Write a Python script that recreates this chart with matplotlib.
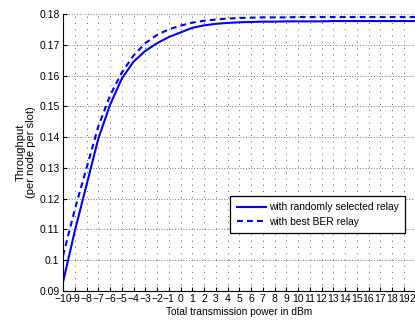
import numpy as np
import matplotlib
matplotlib.use("Agg")
import matplotlib.pyplot as plt
from matplotlib.ticker import MultipleLocator

power_dbm = list(range(-10, 21))

thr_random = [0.0930, 0.1095, 0.1245, 0.1395, 0.1505, 0.1590, 0.1645, 0.1680,
              0.1705, 0.1725, 0.1740, 0.1755, 0.1763, 0.1768, 0.1771, 0.1773,
              0.1774, 0.1775, 0.1775, 0.1776, 0.1776, 0.1776, 0.1776, 0.1777,
              0.1777, 0.1777, 0.1777, 0.1777, 0.1777, 0.1777, 0.1777]

thr_best_ber = [0.1015, 0.1165, 0.1300, 0.1435, 0.1535, 0.1610, 0.1665, 0.1705,
                0.1732, 0.1750, 0.1762, 0.1772, 0.1778, 0.1782, 0.1785, 0.1787,
                0.1788, 0.1789, 0.1789, 0.1789, 0.1790, 0.1790, 0.1790, 0.1790,
                0.1790, 0.1790, 0.1790, 0.1790, 0.1790, 0.1790, 0.1790]

y_ticks = [0.09, 0.1, 0.11, 0.12, 0.13, 0.14, 0.15, 0.16, 0.17, 0.18]
y_tick_labels = ["0.09", "0.1", "0.11", "0.12", "0.13", "0.14",
                 "0.15", "0.16", "0.17", "0.18"]

legend_labels = ["with randomly selected relay", "with best BER relay"]

plt.rcParams["font.family"] = ["Liberation Sans", "DejaVu Sans"]
plt.rcParams["font.size"] = 7.5

fig = plt.figure(figsize=(4.15, 3.25), dpi=100)
# right edge sits just past the figure, like the cropped original
ax = fig.add_axes([0.152, 0.1046, 1.0012 - 0.152, 0.957 - 0.1046])

ax.plot(power_dbm, thr_random, color="blue", linewidth=1.5,
        label=legend_labels[0])
ax.plot(power_dbm, thr_best_ber, color="blue", linewidth=1.5,
        linestyle=(0, (2.8, 2.0)), label=legend_labels[1])

ax.set_xlim(-10, 20)
ax.set_ylim(0.09, 0.18)
ax.xaxis.set_major_locator(MultipleLocator(1))
ax.set_yticks(y_ticks)
ax.set_yticklabels(y_tick_labels)

ax.grid(True, axis="x", color="0.35", linestyle=(0, (1, 5.4)), linewidth=0.7)
ax.grid(True, axis="y", color="0.45", linestyle=(0, (1, 1.8)), linewidth=0.7)
ax.tick_params(direction="in", length=3, pad=2.5)

ax.spines["top"].set_visible(False)
ax.spines["right"].set_visible(False)

ax.set_xlabel("Total transmission power in dBm", fontsize=7.3, labelpad=2)
ax.set_ylabel("Throughput\n(per node per slot)", fontsize=8, labelpad=2,
              linespacing=1.1)

leg = ax.legend(loc="lower right", bbox_to_anchor=(0.97, 0.209),
                borderaxespad=0, fancybox=False, framealpha=1,
                edgecolor="black", handlelength=2.9, handletextpad=0.25,
                borderpad=0.6, labelspacing=0.45, fontsize=7.4)
leg.get_frame().set_linewidth(0.9)

fig.savefig("out.png", dpi=100)
